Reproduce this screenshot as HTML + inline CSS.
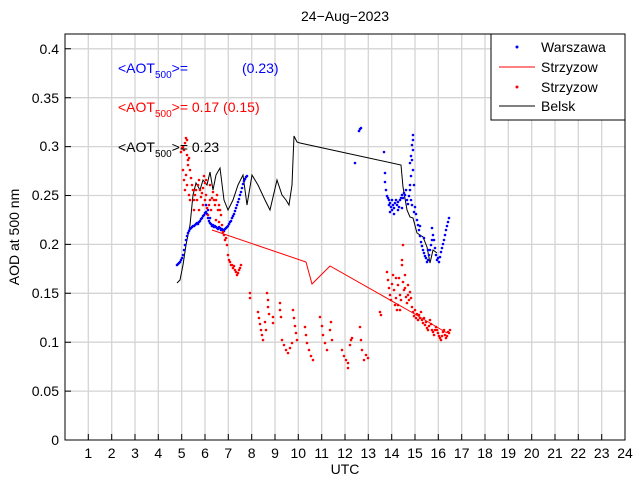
<!DOCTYPE html>
<html><head><meta charset="utf-8"><style>
html,body{margin:0;padding:0;background:#fff;}
svg{display:block;font-family:"Liberation Sans",sans-serif;}
</style></head><body>
<svg width="640" height="480" xmlns="http://www.w3.org/2000/svg">
<rect width="640" height="480" fill="#fff"/>
<path stroke="#d4d4d4" stroke-width="1.3" fill="none" d="M88.3 34V440M111.7 34V440M135 34V440M158.3 34V440M181.7 34V440M205 34V440M228.3 34V440M251.7 34V440M275 34V440M298.3 34V440M321.7 34V440M345 34V440M368.3 34V440M391.7 34V440M415 34V440M438.3 34V440M461.7 34V440M485 34V440M508.3 34V440M531.7 34V440M555 34V440M578.3 34V440M601.7 34V440M65 391.1H625M65 342.2H625M65 293.3H625M65 244.4H625M65 195.5H625M65 146.6H625M65 97.7H625M65 48.8H625"/>
<!-- red model line -->
<polyline fill="none" stroke="#f00" stroke-width="1" points="212,230 306,262 312,284 330,266 413,313 447,333"/>
<!-- Belsk -->
<polyline fill="none" stroke="#000" stroke-width="1" points="177,283 180,280 183,265 186,245 190,225 193,195 196,183 200,190 203,180 207,185 210,172 213,190 216,175 220,168 224,200 228,210 233,200 238,185 243,175 247,205 252,175 258,185 265,200 270,210 277,180 282,195 286,200 289,205 292,185 293,160 294,136 297,142 300,143 401,165 403,187 407,210 410,217 413,218 417,233 423,237 427,247 430,263 433,250 437,253"/>
<!-- blue dots -->
<path fill="none" stroke="#00f" stroke-width="2.6" stroke-linecap="round" d="M177 265h0M178 264h0M179 263h0M180 262h0M181 260h0M182 258h0M183 255h0M184 250h0M185 245h0M186 240h0M187 236h0M188 233h0M189 231h0M190 229h0M191 228h0M192 227h0M193 226h0M194 226h0M195 225h0M196 224h0M197 223h0M198 224h0M199 222h0M200 221h0M201 219h0M202 218h0M203 216h0M204 215h0M205 213h0M206 212h0M207 214h0M208 218h0M209 221h0M210 223h0M211 224h0M212 226h0M213 225h0M214 227h0M215 226h0M216 227h0M217 228h0M218 229h0M219 227h0M220 228h0M221 230h0M222 229h0M223 230h0M224 231h0M225 229h0M226 228h0M227 227h0M228 226h0M229 224h0M230 222h0M231 221h0M232 218h0M233 216h0M234 214h0M235 211h0M236 208h0M237 205h0M238 202h0M239 199h0M240 195h0M241 192h0M242 188h0M243 184h0M244 181h0M245 179h0M246 177h0M247 176h0M206 205h0M208 210h0M210 218h0
M355 163h0M359 131h0M360 129h0M361 128h0
M384 152h0M385 173h0M385 182h0M386 190h0M387 196h0M388 198h0M389 200h0M389 205h0M390 203h0M391 207h0M392 210h0M392 200h0M393 205h0M394 208h0M395 203h0M396 200h0M397 205h0M398 202h0M399 207h0M400 200h0M401 198h0M402 195h0M403 198h0M404 193h0M405 195h0M406 190h0M407 200h0M408 204h0M409 196h0M410 185h0M411 176h0M411 156h0M412 160h0M413 150h0M413 170h0M414 185h0M413 140h0M413 135h0M412 145h0M410 163h0M410 190h0M411 200h0M412 205h0M414 212h0M415 207h0M416 214h0M417 220h0M418 225h0M419 230h0M420 236h0M421 242h0M422 246h0M423 250h0M424 253h0M425 256h0M426 258h0M427 262h0M428 260h0M429 255h0M430 250h0M431 245h0M432 240h0M433 235h0M434 240h0M435 248h0M436 255h0M437 260h0M438 258h0M439 262h0M440 257h0M441 252h0M442 248h0M443 244h0M444 240h0M445 235h0M446 230h0M447 226h0M448 222h0M449 218h0M390 212h0M394 214h0M398 210h0M402 208h0M420 226h0M424 238h0M428 250h0M432 228h0"/>
<!-- red dots -->
<path fill="none" stroke="#f00" stroke-width="2.6" stroke-linecap="round" d="M181 152h0M182 148h0M183 147h0M184 150h0M185 143h0M186 138h0M187 140h0M187 155h0M188 160h0M188 165h0M189 158h0M190 170h0M191 178h0M192 185h0M193 190h0M194 200h0M194 210h0M195 195h0M196 190h0M197 200h0M198 185h0M199 180h0M200 190h0M201 197h0M202 193h0M203 188h0M204 176h0M205 183h0M205 200h0M206 195h0M207 208h0M208 215h0M209 205h0M210 200h0M211 210h0M212 198h0M213 192h0M214 200h0M215 205h0M216 200h0M217 195h0M218 210h0M219 205h0M220 210h0M221 215h0M222 225h0M223 232h0M224 235h0M225 240h0M226 238h0M227 245h0M228 255h0M229 260h0M230 262h0M231 265h0M232 265h0M233 268h0M234 266h0M235 270h0M236 272h0M237 275h0M238 273h0M239 270h0M240 268h0M241 265h0M183 170h0M184 180h0M185 190h0M186 175h0M187 185h0M189 195h0M190 200h0M206 180h0M210 185h0M199 210h0M203 205h0M216 220h0M219 222h0
M250 293h0M250 298h0M258 312h0M259 318h0M260 324h0M261 330h0M262 335h0M263 340h0M265 322h0M266 330h0M267 293h0M268 300h0M268 307h0M269 314h0M273 317h0M273 323h0M280 303h0M280 310h0M281 317h0M282 340h0M284 345h0M286 350h0M288 353h0M290 348h0M292 343h0M293 310h0M294 318h0M295 326h0M296 333h0M297 340h0M305 327h0M306 335h0M307 343h0M309 350h0M311 356h0M313 360h0M320 317h0M322 326h0M323 335h0M325 343h0M327 350h0M330 330h0M331 322h0M332 340h0M342 350h0M344 356h0M346 360h0M348 363h0M348 368h0M350 345h0M351 340h0M352 338h0M360 327h0M361 340h0M362 350h0M364 360h0M366 355h0M368 358h0M380 312h0M381 315h0
M387 272h0M388 280h0M389 288h0M390 295h0M391 300h0M392 284h0M393 275h0M394 290h0M395 305h0M396 298h0M397 310h0M398 285h0M399 278h0M400 295h0M401 300h0M402 260h0M402 265h0M403 245h0M403 282h0M404 290h0M405 288h0M406 297h0M407 303h0M408 295h0M409 300h0M410 292h0M411 298h0M412 307h0M413 312h0M414 316h0M415 310h0M416 318h0M417 314h0M418 320h0M419 315h0M420 318h0M421 312h0M422 320h0M423 323h0M424 318h0M425 325h0M426 322h0M427 328h0M428 330h0M429 326h0M430 320h0M431 324h0M432 330h0M433 332h0M434 335h0M435 330h0M436 327h0M437 330h0M438 333h0M439 336h0M440 338h0M441 340h0M442 336h0M443 332h0M444 330h0M445 335h0M446 338h0M447 336h0M448 332h0M449 333h0M450 330h0M396 278h0M398 305h0M400 310h0M405 275h0M408 285h0"/>
<rect x="65" y="34" width="560" height="406" fill="none" stroke="#000" stroke-width="1"/>
<path stroke="#000" stroke-width="1" fill="none" d="M88.3 440v-6M111.7 440v-6M135 440v-6M158.3 440v-6M181.7 440v-6M205 440v-6M228.3 440v-6M251.7 440v-6M275 440v-6M298.3 440v-6M321.7 440v-6M345 440v-6M368.3 440v-6M391.7 440v-6M415 440v-6M438.3 440v-6M461.7 440v-6M485 440v-6M508.3 440v-6M531.7 440v-6M555 440v-6M578.3 440v-6M601.7 440v-6M65 391.1h6M65 342.2h6M65 293.3h6M65 244.4h6M65 195.5h6M65 146.6h6M65 97.7h6M65 48.8h6"/>
<g font-size="14" text-anchor="middle">
<text x="88.3" y="458">1</text><text x="111.7" y="458">2</text><text x="135" y="458">3</text><text x="158.3" y="458">4</text><text x="181.7" y="458">5</text><text x="205" y="458">6</text><text x="228.3" y="458">7</text><text x="251.7" y="458">8</text><text x="275" y="458">9</text><text x="298.3" y="458">10</text><text x="321.7" y="458">11</text><text x="345" y="458">12</text><text x="368.3" y="458">13</text><text x="391.7" y="458">14</text><text x="415" y="458">15</text><text x="438.3" y="458">16</text><text x="461.7" y="458">17</text><text x="485" y="458">18</text><text x="508.3" y="458">19</text><text x="531.7" y="458">20</text><text x="555" y="458">21</text><text x="578.3" y="458">22</text><text x="601.7" y="458">23</text><text x="625" y="458">24</text>
</g>
<g font-size="14" text-anchor="end">
<text x="59" y="445">0</text><text x="59" y="396">0.05</text><text x="59" y="347">0.1</text><text x="59" y="298">0.15</text><text x="59" y="249">0.2</text><text x="59" y="200">0.25</text><text x="59" y="151">0.3</text><text x="59" y="103">0.35</text><text x="59" y="54">0.4</text>
</g>
<text x="345" y="21" font-size="14" text-anchor="middle">24−Aug−2023</text>
<text x="345" y="474" font-size="14" text-anchor="middle">UTC</text>
<text transform="translate(19,237) rotate(-90)" font-size="14" text-anchor="middle">AOD at 500 nm</text>
<text x="118" y="73" font-size="14" fill="#00f">&lt;AOT<tspan font-size="10" dy="5">500</tspan><tspan dy="-5">&gt;=</tspan></text>
<text x="242" y="73" font-size="14" fill="#00f">(0.23)</text>
<text x="118" y="112" font-size="14" fill="#f00">&lt;AOT<tspan font-size="10" dy="5">500</tspan><tspan dy="-5">&gt;= 0.17 (0.15)</tspan></text>
<text x="118" y="152" font-size="14" fill="#000">&lt;AOT<tspan font-size="10" dy="5">500</tspan><tspan dy="-5">&gt;= 0.23</tspan></text>
<rect x="491" y="34" width="134" height="86" fill="#fff" stroke="#000"/>
<circle cx="517" cy="47" r="1.5" fill="#00f"/>
<text x="541" y="52" font-size="14">Warszawa</text>
<line x1="499" y1="67" x2="535" y2="67" stroke="#f00"/>
<text x="541" y="72" font-size="14">Strzyzow</text>
<circle cx="517" cy="87" r="1.5" fill="#f00"/>
<text x="541" y="92" font-size="14">Strzyzow</text>
<line x1="499" y1="106" x2="535" y2="106" stroke="#000"/>
<text x="541" y="111" font-size="14">Belsk</text>
</svg>
</body></html>
